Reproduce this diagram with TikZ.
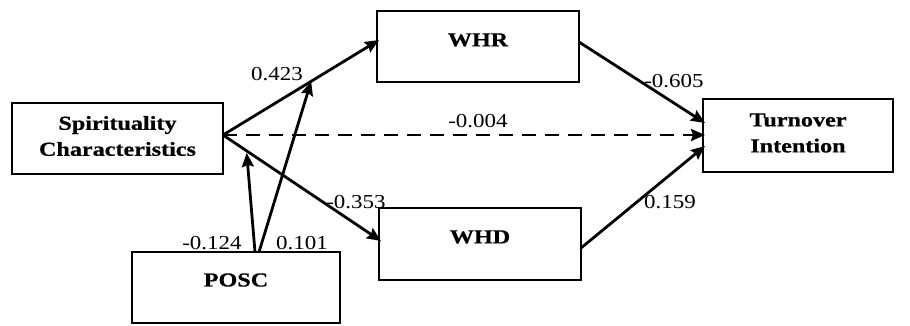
\documentclass[tikz,border=0pt]{standalone}
\usepackage{fontspec}
\setmainfont{Liberation Serif}
\newfontfamily\bfontfam[FakeStretch=1.22,FakeBold=0.6]{Liberation Serif}
\newfontfamily\nfontfam[FakeStretch=1.16]{Liberation Serif}
\usetikzlibrary{arrows.meta,calc}
\begin{document}
\begin{tikzpicture}[x=1pt,y=-1pt,
  box/.style={draw, line width=1.7pt, inner sep=0pt},
  ttl/.style={font=\bfontfam\bfseries\fontsize{19.8}{26}\selectfont, align=center, inner sep=0pt},
  lab/.style={font=\nfontfam\fontsize{19.8}{23}\selectfont, inner sep=0pt},
  arr/.style={line width=2.8pt, -{Stealth[length=14pt,width=12pt,inset=2pt]}},
  dsh/.style={line width=2.8pt, dash pattern=on 14pt off 9pt, -{Stealth[length=14pt,width=12pt,inset=2pt]}}
]
\useasboundingbox (0,0) rectangle (910,325);
% boxes
\node[box, minimum width=211pt, minimum height=71pt] (sp) at (117.5,138.5) {};
\node[box, minimum width=208pt, minimum height=71pt] (posc) at (236,287.5) {};
\node[box, minimum width=202pt, minimum height=71pt] (whr) at (478,46.5) {};
\node[box, minimum width=202pt, minimum height=72pt] (whd) at (480,244) {};
\node[box, minimum width=190pt, minimum height=73pt] (ti) at (798,135.5) {};
% box texts
\node[ttl] (spt) at (117.5,136) {Spirituality\\Characteristics};
\node[ttl] (posct) at (236,280) {POSC};
\node[ttl] (whrt) at (478,40) {WHR};
\node[ttl] (whdt) at (480,237) {WHD};
\node[ttl] (tit) at (798,133) {Turnover\\Intention};
% connector points
\coordinate (s) at (223,135);
\coordinate (whrin) at (379,40);
\coordinate (whdin) at (381,241);
\coordinate (whrout) at (579,42);
\coordinate (whdout) at (581,248);
\coordinate (tia) at (705,123);
\coordinate (tib) at (705,135);
\coordinate (tic) at (705,146);
\coordinate (pa) at (255,252);
\coordinate (pb) at (259,252);
% connectors
\draw[arr] (s) -- (whrin);
\draw[arr] (s) -- (whdin);
\draw[dsh] (s) -- (tib);
\draw[arr] (whrout) -- (tia);
\draw[arr] (whdout) -- (tic);
\draw[arr] (pa) -- ($(s)!0.15!(whdin)+(0,2)$);
\draw[arr] (pb) -- ($(s)!0.565!(whrin)$);
% labels
\node[lab] (l1) at (277,74) {0.423};
\node[lab] (l2) at (478,121) {-0.004};
\node[lab] (l3) at (674,81) {-0.605};
\node[lab] (l4) at (670,202) {0.159};
\node[lab] (l5) at (356,202) {-0.353};
\node[lab] (l6) at (212,243) {-0.124};
\node[lab] (l7) at (302,243) {0.101};
\end{tikzpicture}
\end{document}
